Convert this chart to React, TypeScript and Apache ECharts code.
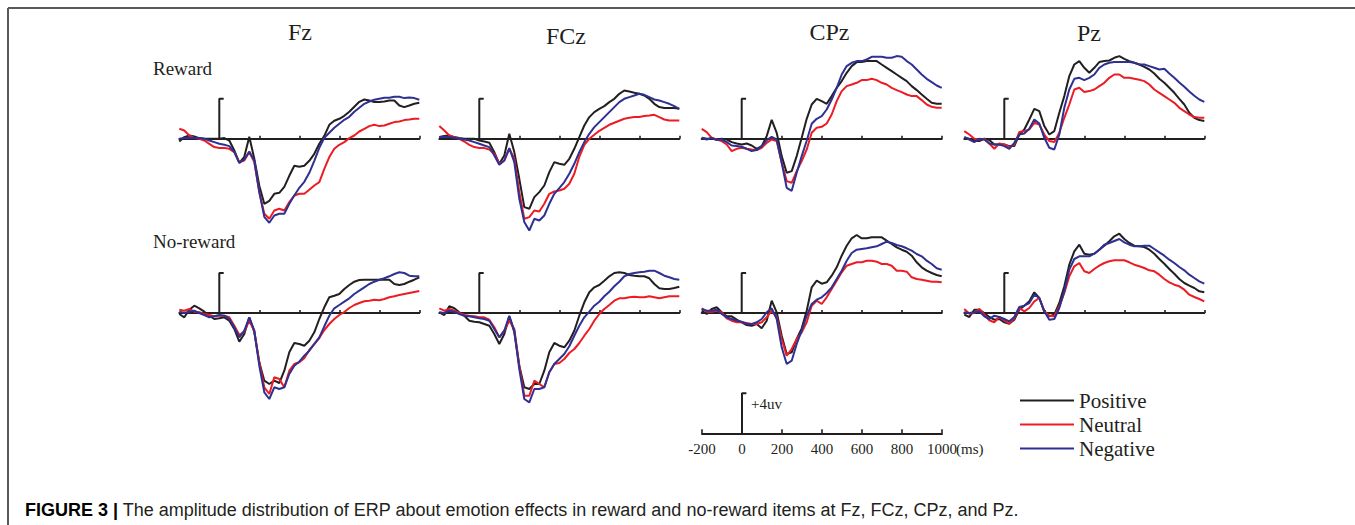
import React, { useEffect, useRef } from 'react';
import * as echarts from 'echarts';

// ---------- data (µV) ----------
const TIMES = [-200,-175,-150,-125,-100,-75,-50,-25,0,25,50,75,100,125,150,175,200,225,250,275,300,325,350,375,400,425,450,475,500,525,550,575,600,625,650,675,700,725,750,775,800,825,850,875,900,925,950,975,1000];

const CONDITIONS = ['Positive', 'Neutral', 'Negative'];
const ELECTRODES = ['Fz', 'FCz', 'CPz', 'Pz'];
const ROW_LABELS = ['Reward', 'No-reward'];
const SCALE_TICKS = [-200, 0, 200, 400, 600, 800, 1000];
const PANEL_TICKS = [200, 400, 600, 800, 1000];
const SCALE_UV = 4;
const SCALE_LABEL = '+4uv';
const CAPTION_BOLD = 'FIGURE 3 |';
const CAPTION_TEXT = ' The amplitude distribution of ERP about emotion effects in reward and no-reward items at Fz, FCz, CPz, and Pz.';

// Reward
const FZ_R_POS = [-0.27,0.17,0.33,0.23,0.07,0,0,0,0,0.07,-0.17,-1.17,-2.4,-1.8,0.2,-2.0,-4.7,-6.5,-6.2,-5.5,-5.4,-4.8,-3.7,-2.7,-2.8,-2.7,-2.2,-1.5,-0.5,0.3,1.4,1.8,2.0,2.3,2.7,3.2,3.7,3.93,3.83,3.67,3.67,3.73,3.83,3.83,3.33,3.17,3.33,3.5,3.6];
const FZ_R_NEU = [1.0,0.83,0.33,0.07,0,-0.17,-0.5,-0.83,-0.93,-0.93,-1.0,-1.33,-2.33,-2.17,-1.33,-2.33,-5.33,-7.5,-8.0,-7.17,-7.0,-7.17,-6.33,-5.67,-5.5,-5.5,-5.1,-4.67,-4.33,-3.0,-1.83,-1.0,-0.6,-0.33,0.07,0.33,0.73,1.0,1.27,1.4,1.27,1.33,1.5,1.67,1.73,1.87,1.93,2.0,2.0];
const FZ_R_NEG = [0,0.07,0.1,0.07,0.07,0,-0.17,-0.33,-0.5,-0.6,-0.73,-1.33,-2.4,-2.07,-1.27,-2.17,-5.33,-7.8,-8.4,-7.67,-7.5,-7.5,-6.5,-5.67,-4.9,-4.3,-3.4,-2.2,-0.9,0.1,0.6,1.1,1.5,1.9,2.2,2.7,3.1,3.5,3.73,3.9,4.0,4.1,4.1,4.2,4.2,4.07,4.13,4.07,3.9];

const FCZ_R_POS = [0.17,0.27,0.33,0.17,0.07,0,0,0,-0.17,-0.27,-0.4,-1.33,-2.5,-1.67,0.5,-1.33,-4.0,-6.83,-7.0,-5.83,-5.33,-4.67,-3.33,-2.33,-2.5,-2.6,-2.0,-1.0,0.17,1.33,2.17,2.67,3.0,3.27,3.67,4.0,4.5,4.83,4.73,4.6,4.5,4.33,4.0,3.5,3.17,3.07,3.07,3.07,3.0];
const FCZ_R_NEU = [1.27,0.83,0.33,0.17,0,-0.27,-0.6,-0.83,-0.93,-0.93,-1.07,-1.5,-2.5,-2.17,-1.0,-2.0,-5.33,-8.0,-7.83,-7.17,-7.27,-6.5,-5.5,-5.27,-5.17,-5.0,-4.5,-3.5,-1.8,-0.6,0,0.4,0.8,1.1,1.4,1.6,1.8,2.0,2.1,2.17,2.17,2.27,2.33,2.4,2.17,1.93,1.83,1.83,1.83];
const FCZ_R_NEG = [0.17,0.17,0.17,0.1,0,-0.07,-0.17,-0.33,-0.5,-0.67,-0.83,-1.67,-2.6,-2.17,-0.93,-2.33,-6.0,-8.33,-9.17,-8.0,-8.17,-7.67,-6.5,-5.5,-4.93,-4.33,-3.5,-2.5,-1.33,-0.33,0.5,1.17,1.67,2.17,2.67,3.17,3.67,4.0,4.17,4.33,4.5,4.4,4.17,3.93,3.83,3.67,3.5,3.27,3.0];

const CPZ_R_POS = [0.1,0,0,-0.07,0,-0.07,-0.33,-0.47,-0.57,-0.47,-0.67,-1.0,-0.73,0.27,1.9,0.6,-1.73,-3.4,-3.23,-1.73,0.1,2.0,3.43,4.0,3.77,3.5,4.27,5.1,5.77,6.6,7.27,7.67,7.67,7.77,7.77,7.77,7.43,7.1,6.77,6.43,6.1,5.77,5.27,4.87,4.43,4.0,3.6,3.5,3.5];
const CPZ_R_NEU = [1.0,0.67,0.1,-0.07,-0.23,-0.57,-1.23,-1.0,-0.9,-1.0,-1.07,-1.13,-0.9,-0.4,-0.07,-0.23,-2.4,-4.23,-4.4,-3.23,-2.23,-1.07,0.6,1.1,1.2,1.53,2.43,3.77,4.77,5.27,5.43,5.6,5.87,5.87,6.0,5.87,5.6,5.43,5.1,4.87,4.67,4.43,4.27,4.27,3.87,3.43,3.2,3.1,3.1];
const CPZ_R_NEG = [0.1,-0.07,0.1,-0.13,-0.07,-0.33,-0.67,-0.73,-0.8,-1.0,-1.23,-1.13,-0.73,-0.13,0.2,-0.07,-2.4,-4.9,-5.2,-3.4,-1.73,-0.2,1.5,2.0,2.27,2.93,3.93,5.1,6.43,7.27,7.6,7.77,7.77,7.93,8.2,8.2,8.2,8.1,8.1,8.27,8.2,7.77,7.43,6.93,6.43,6.0,5.67,5.33,5.1];

const PZ_R_POS = [0.1,0,-0.23,-0.23,0,-0.13,-0.57,-0.57,-0.57,-0.73,-0.73,0.43,0.93,1.93,3.0,2.77,1.27,0.43,0.77,2.6,4.27,6.27,7.43,7.77,7.1,6.6,7.1,7.67,7.77,7.83,8.1,8.27,8.0,7.77,7.6,7.43,7.2,6.93,6.53,6.0,5.6,5.1,4.6,4.0,3.43,2.6,2.1,1.87,1.77];
const PZ_R_NEU = [0.77,0.43,0,-0.07,0,-0.47,-1.0,-0.47,-0.57,-0.8,-0.57,0.67,0.77,0.93,1.6,1.43,0.43,-0.23,-0.33,0.6,2.1,3.43,4.93,5.1,4.67,4.77,4.93,5.27,5.6,6.1,6.43,6.43,6.1,6.1,6.0,5.9,5.77,5.43,4.93,4.6,4.27,3.93,3.6,3.1,2.77,2.43,2.17,2.1,2.1];
const PZ_R_NEG = [0.2,-0.07,-0.33,0,-0.07,-0.47,-0.57,-0.57,-0.73,-1.0,-0.4,0.43,0.53,1.0,1.93,1.53,0.1,-0.9,-1.07,0.43,3.1,4.93,6.0,6.1,5.87,6.1,6.43,7.1,7.43,7.6,7.67,7.67,7.67,7.67,7.6,7.43,7.43,7.27,7.1,6.93,7.0,6.53,6.1,5.63,5.2,4.73,4.3,3.93,3.7];

// No-reward
const FZ_N_POS = [-0.1,-0.43,0.33,0.73,0.47,0.13,-0.27,-0.6,-0.53,-0.43,-0.77,-1.6,-2.87,-2.1,-0.43,-1.93,-4.93,-6.77,-7.1,-6.77,-7.0,-5.77,-3.93,-3.0,-3.1,-3.27,-2.77,-1.93,-0.6,0.57,1.57,1.73,1.9,2.4,2.8,3.13,3.3,3.33,3.33,3.33,3.33,3.33,3.33,2.9,2.8,2.9,3.13,3.33,3.57];
const FZ_N_NEU = [0.33,0.23,0.4,0.13,0.07,-0.1,-0.2,-0.33,-0.27,-0.27,-0.43,-1.27,-2.2,-1.87,-0.77,-1.77,-4.93,-7.43,-8.1,-6.43,-6.6,-7.43,-5.77,-5.1,-4.93,-4.53,-3.7,-3.1,-2.5,-1.7,-1.1,-0.6,-0.2,0.1,0.5,0.8,1.0,1.17,1.23,1.33,1.27,1.4,1.57,1.67,1.8,1.9,2.0,2.1,2.2];
const FZ_N_NEG = [0.13,0,0.13,0.23,0,-0.2,-0.43,-0.33,-0.2,-0.27,-0.6,-1.43,-2.43,-1.77,-0.43,-1.77,-5.27,-7.93,-8.6,-7.43,-7.6,-7.43,-6.1,-5.27,-4.87,-4.27,-3.77,-3.1,-2.43,-1.33,-0.27,0.47,0.8,1.13,1.47,1.9,2.23,2.57,2.9,3.13,3.33,3.47,3.67,3.9,4.07,4.0,3.73,3.67,3.67];

const FCZ_N_POS = [0.07,-0.2,0.67,0.47,0.07,-0.27,-0.77,-0.87,-0.93,-1.1,-1.27,-2.1,-3.1,-2.1,-0.33,-1.93,-5.27,-7.43,-7.6,-7.1,-7.1,-5.77,-3.93,-3.0,-3.27,-3.43,-2.77,-1.77,-0.27,1.07,2.07,2.57,2.8,3.23,3.67,4.0,4.07,4.0,3.8,3.73,3.67,3.67,3.47,2.9,2.47,2.4,2.4,2.5,2.63];
const FCZ_N_NEU = [0.47,0.23,0.4,0.23,0,-0.2,-0.27,-0.33,-0.43,-0.43,-0.67,-1.43,-2.43,-1.77,-0.77,-1.6,-5.27,-8.27,-8.27,-6.77,-7.1,-7.43,-5.93,-5.1,-5.0,-4.6,-4.0,-3.6,-3.0,-2.27,-1.6,-0.77,-0.1,0.4,0.8,1.23,1.47,1.47,1.57,1.63,1.57,1.57,1.67,1.57,1.47,1.57,1.67,1.67,1.67];
const FCZ_N_NEG = [0.07,0,0.23,0.13,-0.1,-0.27,-0.33,-0.43,-0.53,-0.6,-0.77,-1.6,-2.43,-1.77,-0.27,-1.77,-5.6,-8.6,-8.93,-7.6,-7.6,-7.43,-5.93,-5.1,-4.6,-4.1,-3.33,-2.27,-1.27,-0.43,0.13,0.73,1.13,1.67,2.13,2.67,3.13,3.67,3.9,4.0,4.07,4.13,4.23,4.23,4.0,3.73,3.57,3.4,3.33];

const CPZ_N_POS = [0.23,-0.1,0.4,0.57,0.07,-0.33,-0.33,-0.67,-0.93,-1.2,-1.27,-1.1,-1.53,-0.77,1.23,0.07,-2.27,-4.1,-3.93,-2.6,-1.53,0.23,2.57,3.23,2.93,3.07,3.73,4.57,5.73,6.73,7.47,7.8,7.47,7.47,7.57,7.57,7.57,7.23,6.9,6.57,6.33,6.13,5.73,5.07,4.57,4.23,4.0,3.8,3.67];
const CPZ_N_NEU = [0.47,0.13,0.13,0.23,0.07,-0.53,-0.77,-0.93,-0.93,-1.0,-1.1,-1.1,-0.93,-0.43,0.23,-0.43,-2.6,-4.27,-3.6,-2.6,-1.93,-0.93,0.73,1.23,0.9,1.57,2.4,3.23,4.07,4.73,4.9,5.07,5.07,5.23,5.23,5.13,4.9,4.9,4.73,4.23,4.23,4.13,3.57,3.4,3.33,3.23,3.13,3.13,3.07];
const CPZ_N_NEG = [0.4,0.23,0.23,0.33,-0.1,-0.43,-0.6,-0.77,-0.87,-1.1,-1.1,-0.93,-0.6,0.07,0.47,-0.6,-3.43,-5.1,-4.77,-3.1,-1.77,-0.27,0.9,1.33,1.57,2.0,2.57,3.4,4.23,5.23,6.0,6.33,6.4,6.47,6.57,6.67,6.9,7.13,7.0,6.8,6.67,6.47,6.23,5.9,5.67,5.23,4.9,4.47,4.33];

const PZ_N_POS = [-0.17,-0.4,0.33,0.33,0,-0.4,-0.67,-0.6,-0.93,-1.07,-0.67,0.33,0.73,1.17,2.07,1.5,0.17,-0.33,-0.17,1.0,2.67,4.83,6.17,6.83,5.93,5.83,5.93,6.33,6.73,7.17,7.67,7.93,7.4,7.0,6.73,6.67,6.6,6.33,5.93,5.4,4.93,4.4,3.93,3.4,3.0,2.73,2.5,2.17,2.07];
const PZ_N_NEU = [0.4,-0.07,0,0.4,-0.17,-0.73,-0.93,-0.4,-0.73,-1.07,-0.5,0.5,0.17,0.5,1.17,1.5,0.17,-0.27,-0.33,0.67,2.0,3.67,4.67,5.0,4.17,4.0,4.4,4.73,5.0,5.17,5.27,5.27,5.27,5.07,4.83,4.67,4.5,4.27,4.17,3.83,3.4,3.07,2.83,2.67,2.33,1.83,1.6,1.4,1.17];
const PZ_N_NEG = [0.07,0,0.07,0.17,-0.33,-0.6,-0.27,-0.4,-0.6,-0.83,-0.4,0.6,0.73,1.0,1.83,1.5,0.17,-0.67,-0.6,0.5,2.17,4.33,5.4,5.67,5.67,5.67,5.93,6.33,6.83,7.0,7.2,7.4,7.07,6.83,6.67,6.67,6.73,6.73,6.4,6.07,5.73,5.33,5.0,4.6,4.27,3.83,3.5,3.17,2.93];

// panel order: row-major (Reward row, then No-reward row), columns Fz, FCz, CPz, Pz
const PANELS = [
  [FZ_R_POS, FZ_R_NEU, FZ_R_NEG],
  [FCZ_R_POS, FCZ_R_NEU, FCZ_R_NEG],
  [CPZ_R_POS, CPZ_R_NEU, CPZ_R_NEG],
  [PZ_R_POS, PZ_R_NEU, PZ_R_NEG],
  [FZ_N_POS, FZ_N_NEU, FZ_N_NEG],
  [FCZ_N_POS, FCZ_N_NEU, FCZ_N_NEG],
  [CPZ_N_POS, CPZ_N_NEU, CPZ_N_NEG],
  [PZ_N_POS, PZ_N_NEU, PZ_N_NEG],
];

// ---------- styling / layout ----------
const COLORS = ['#231f20', '#ed1c24', '#2e3192'];
const INK = '#231f20';
const SERIF = '"Liberation Serif", "Times New Roman", serif';
const SANS = '"Liberation Sans", Arial, sans-serif';
const COL_LEFT = [179.3, 439.3, 701.7, 964.3];
const ROW_BASE = [138.8, 313];
const PANEL_W = 240;
const Y_LIM = 10;
const PX_PER_UV = 10;
const CAP_MS = 22;
const TITLE_POS = [[300, 32], [566, 36], [829.5, 32], [1089, 33]];
const ROW_LABEL_POS = [[153, 68], [153, 241]];
const SCALE_LEFT = 702;
const SCALE_BASE = 433.3;

const pair = (vals: number[]) => TIMES.map((t, i) => [t, vals[i]]);

function buildOption() {
  const grid: any[] = [];
  const xAxis: any[] = [];
  const yAxis: any[] = [];
  const series: any[] = [];

  const addGrid = (left: number, base: number, scale: boolean) => {
    const k = grid.length;
    const yMin = scale ? 0 : -Y_LIM;
    grid.push({
      left, top: base - Y_LIM * PX_PER_UV, width: PANEL_W, height: (Y_LIM - yMin) * PX_PER_UV,
      containLabel: false, outerBoundsMode: 'none',
    });
    xAxis.push({
      gridIndex: k, type: 'value', min: -200, max: 1000, interval: 200,
      axisLine: { show: true, onZero: !scale, lineStyle: { color: INK, width: 2 } },
      axisTick: {
        show: true, inside: true, length: scale ? 4 : 3,
        customValues: scale ? SCALE_TICKS : PANEL_TICKS,
        lineStyle: { color: INK, width: 1.6 },
      },
      axisLabel: scale
        ? { show: true, margin: 8, color: INK, fontFamily: SERIF, fontSize: 15, formatter: (v: number) => String(v) }
        : { show: false },
      splitLine: { show: false },
    });
    yAxis.push({ gridIndex: k, type: 'value', min: yMin, max: Y_LIM, show: false });
    // vertical calibration bar (0 .. +4 µV) with a short cap
    series.push({
      type: 'line', xAxisIndex: k, yAxisIndex: k, silent: true, symbol: 'none', z: 2,
      data: [[0, 0], [0, SCALE_UV], [CAP_MS, SCALE_UV]],
      lineStyle: { color: INK, width: 2 }, emphasis: { disabled: true },
    });
    return k;
  };

  PANELS.forEach((panel, p) => {
    const r = Math.floor(p / 4);
    const c = p % 4;
    const k = addGrid(COL_LEFT[c], ROW_BASE[r], false);
    panel.forEach((vals, j) => {
      series.push({
        name: CONDITIONS[j], type: 'line', xAxisIndex: k, yAxisIndex: k,
        data: pair(vals), symbol: 'none', showSymbol: false, silent: true, z: 3 + j,
        lineStyle: { color: COLORS[j], width: 2 }, itemStyle: { color: COLORS[j] },
        emphasis: { disabled: true },
      });
    });
  });
  addGrid(SCALE_LEFT, SCALE_BASE, true);

  const graphic: any[] = [
    { type: 'line', shape: { x1: 8, y1: 8, x2: 1355, y2: 8 }, style: { stroke: '#58595b', lineWidth: 2 } },
    { type: 'line', shape: { x1: 8, y1: 8, x2: 8, y2: 525 }, style: { stroke: '#58595b', lineWidth: 2 } },
  ];
  ELECTRODES.forEach((e, i) => graphic.push({
    type: 'text', x: TITLE_POS[i][0], y: TITLE_POS[i][1],
    style: { text: e, fill: INK, font: `24px ${SERIF}`, align: 'center', verticalAlign: 'middle' },
  }));
  ROW_LABELS.forEach((t, i) => graphic.push({
    type: 'text', x: ROW_LABEL_POS[i][0], y: ROW_LABEL_POS[i][1],
    style: { text: t, fill: INK, font: `19px ${SERIF}`, align: 'left', verticalAlign: 'middle' },
  }));
  graphic.push({
    type: 'text', x: 751, y: 404,
    style: { text: SCALE_LABEL, fill: INK, font: `15px ${SERIF}`, align: 'left', verticalAlign: 'middle' },
  });
  graphic.push({
    type: 'text', x: 956, y: 449,
    style: { text: '(ms)', fill: INK, font: `15px ${SERIF}`, align: 'left', verticalAlign: 'middle' },
  });
  graphic.push({
    type: 'text', x: 25, y: 510,
    style: {
      text: `{b|${CAPTION_BOLD}}${CAPTION_TEXT}`,
      fill: INK, font: `18px ${SANS}`, align: 'left', verticalAlign: 'middle',
      rich: { b: { fontWeight: 'bold', fontSize: 18, fontFamily: SANS, fill: '#000' } },
    },
  });

  return {
    animation: false,
    backgroundColor: '#ffffff',
    grid, xAxis, yAxis, series, graphic,
    legend: {
      orient: 'vertical', left: 1015, top: 385, itemWidth: 54, itemHeight: 2, itemGap: 3,
      icon: 'rect', selectedMode: false, data: CONDITIONS,
      textStyle: { fontFamily: SERIF, fontSize: 21, color: INK },
    },
  };
}

export default function App() {
  const ref = useRef<HTMLDivElement>(null);
  useEffect(() => {
    if (!ref.current) return;
    const chart = echarts.init(ref.current, null, { renderer: 'svg' });
    chart.setOption(buildOption() as any);
    return () => chart.dispose();
  }, []);
  return (
    <div
      ref={ref}
      style={{ position: 'absolute', left: 0, top: 0, width: 1355, height: 525, background: '#fff' }}
    />
  );
}
